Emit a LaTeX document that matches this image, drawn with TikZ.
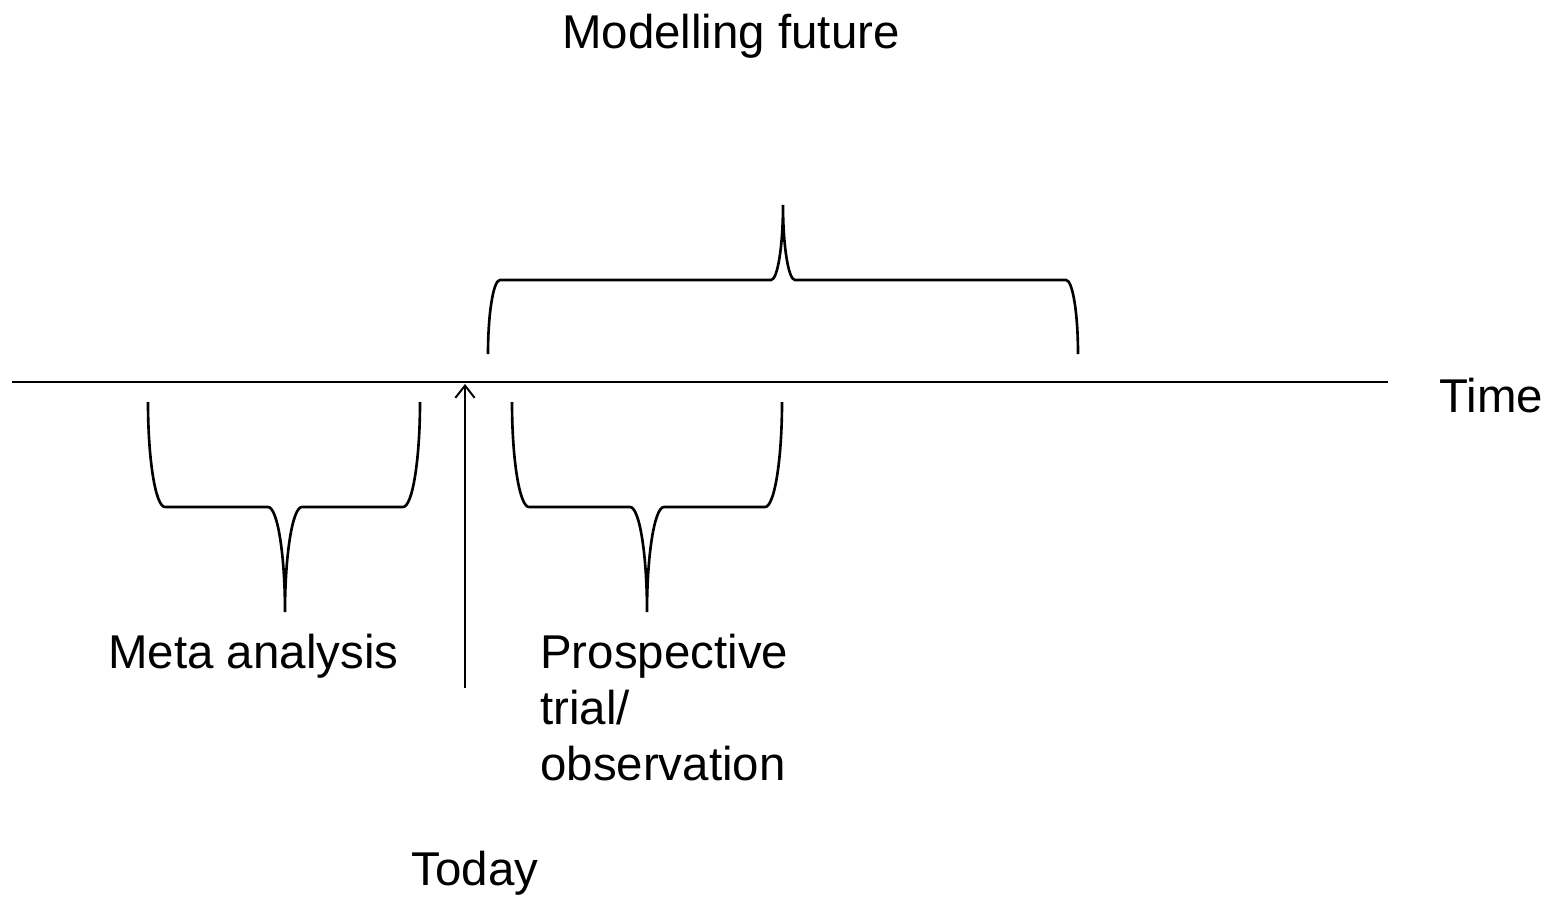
\documentclass[tikz,border=0pt]{standalone}
\usepackage{fontspec}
\setmainfont{Liberation Sans}
\usetikzlibrary{arrows.meta}
\tikzset{
	lbl/.style={font=\fontsize{27}{32}\selectfont, inner sep=0pt},
	bracket/.style={line width=1.5pt},
	axis/.style={line width=1.1pt}
}

\begin{document}
\begin{tikzpicture}[x=0.02cm, y=-0.02cm]
	\useasboundingbox (0,0) rectangle (1552,899);

	% time axis
	\coordinate (t0) at (12,382);
	\coordinate (t1) at (1388,382);
	\draw[axis] (t0) -- (t1);
	\node[lbl, anchor=base west] (time) at (1439,412) {Time};

	% today
	\coordinate (today-foot) at (465,688);
	\coordinate (today-tip) at (465,384);
	\draw[axis, -{Straight Barb[length=7pt, width=11pt, line width=1.1pt]}] (today-foot) -- (today-tip);
	\node[lbl, anchor=base] (today) at (475,885) {Today};

	% braces
	\draw[bracket] (148,402) .. controls +(0,58) and +(-9.4,0) .. (165,507) -- (268,507)
		.. controls +(9.4,0) and +(0,-58) .. (285,612)
		.. controls +(0,-58) and +(-9.4,0) .. (302,507) -- (403,507)
		.. controls +(9.4,0) and +(0,58) .. (420,402);
	\draw[bracket] (512,402) .. controls +(0,58) and +(-9.4,0) .. (529,507) -- (630,507)
		.. controls +(9.4,0) and +(0,-58) .. (647,612)
		.. controls +(0,-58) and +(-9.4,0) .. (664,507) -- (765,507)
		.. controls +(9.4,0) and +(0,58) .. (782,402);
	\draw[bracket] (488,354) .. controls +(0,-41) and +(-6.6,0) .. (500,280) -- (771,280)
		.. controls +(6.6,0) and +(0,41) .. (783,205)
		.. controls +(0,41) and +(-6.6,0) .. (795,280) -- (1066,280)
		.. controls +(6.6,0) and +(0,-41) .. (1078,354);

	% labels
	\node[lbl, anchor=base] (model) at (731,49) {Modelling future};
	\node[lbl, anchor=base west] (meta) at (108,668) {Meta analysis};
	\node[lbl, anchor=base west] (prosp) at (540,668)
		{\begin{tabular}[t]{@{}l@{}}Prospective\\trial/\\observation\end{tabular}};
\end{tikzpicture}
\end{document}
